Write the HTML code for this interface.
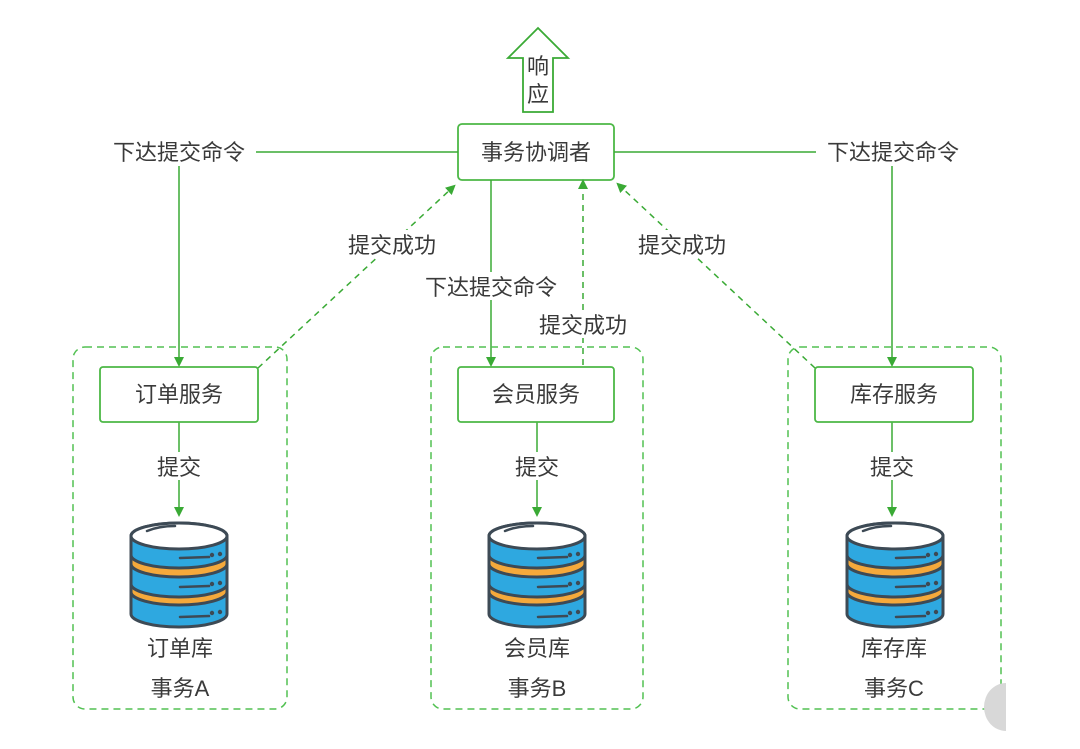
<!DOCTYPE html>
<html><head><meta charset="utf-8"><style>
html,body{margin:0;padding:0;background:#fff;}
svg{display:block;}
text{font-family:"Liberation Sans","Noto Sans CJK SC",sans-serif;fill:#3a3a3a;font-size:22px;}
</style></head><body>
<svg width="1080" height="749" viewBox="0 0 1080 749" xmlns="http://www.w3.org/2000/svg">
<defs>
<marker id="ah" markerWidth="10" markerHeight="10" refX="5" refY="5" orient="auto" markerUnits="userSpaceOnUse"><path d="M0,0 L10,5 L0,10 Z" fill="#3aaa35"/></marker>
<g id="db" stroke="#3d4a55" stroke-width="3">
  <path d="M-48,588 V614 A48,13 0 0 0 48,614 V588 A48,13 0 0 0 -48,588 Z" fill="#2ea8e0"/>
  <path d="M-48,575 V592 A48,13 0 0 0 48,592 V575 A48,13 0 0 0 -48,575 Z" fill="#f5a93b"/>
  <path d="M-48,560 V584 A48,13 0 0 0 48,584 V560 A48,13 0 0 0 -48,560 Z" fill="#2ea8e0"/>
  <path d="M-48,548 V564 A48,13 0 0 0 48,564 V548 A48,13 0 0 0 -48,548 Z" fill="#f5a93b"/>
  <path d="M-48,536 V555 A48,13 0 0 0 48,555 V536 A48,13 0 0 0 -48,536 Z" fill="#2ea8e0"/>
  <ellipse cx="0" cy="536" rx="48" ry="13" fill="#fff"/>
  <path d="M-32,531 q12,-5 28,-5" stroke-width="2.5" fill="none" stroke-linecap="round"/>
  <g stroke-width="2.5" stroke-linecap="round"><line x1="1" y1="558" x2="30" y2="557"/><line x1="1" y1="587" x2="30" y2="586"/><line x1="1" y1="617" x2="30" y2="616"/></g>
  <g stroke="none" fill="#3d4a55"><circle cx="33" cy="555" r="2.2"/><circle cx="41" cy="554" r="2.2"/><circle cx="33" cy="584" r="2.2"/><circle cx="41" cy="583" r="2.2"/><circle cx="33" cy="613" r="2.2"/><circle cx="41" cy="612" r="2.2"/></g>
</g>
</defs>

<!-- response arrow -->
<path d="M538,28 L568,58 L553,58 L553,112 L523,112 L523,58 L508,58 Z" fill="#fff" stroke="#3aaa35" stroke-width="1.8"/>
<text x="538" y="74" text-anchor="middle" font-size="22">响</text>
<text x="538" y="102" text-anchor="middle" font-size="22">应</text>

<!-- coordinator -->
<rect x="458" y="124" width="156" height="56" rx="4" fill="#fff" stroke="#4cb846" stroke-width="1.8"/>
<text x="536" y="160" text-anchor="middle" font-size="23">事务协调者</text>

<!-- command lines -->
<g stroke="#3aaa35" stroke-width="1.5" fill="none">
  <line x1="256" y1="152" x2="458" y2="152"/>
  <line x1="179" y1="166" x2="179" y2="362" marker-end="url(#ah)"/>
  <line x1="614" y1="152" x2="816" y2="152"/>
  <line x1="892" y1="166" x2="892" y2="362" marker-end="url(#ah)"/>
  <line x1="491" y1="180" x2="491" y2="272"/>
  <line x1="491" y1="300" x2="491" y2="362" marker-end="url(#ah)"/>
  <line x1="179" y1="422" x2="179" y2="452"/>
  <line x1="179" y1="480" x2="179" y2="512" marker-end="url(#ah)"/>
  <line x1="537" y1="422" x2="537" y2="452"/>
  <line x1="537" y1="480" x2="537" y2="512" marker-end="url(#ah)"/>
  <line x1="892" y1="422" x2="892" y2="452"/>
  <line x1="892" y1="480" x2="892" y2="512" marker-end="url(#ah)"/>
</g>
<text x="179" y="160" text-anchor="middle">下达提交命令</text>
<text x="893" y="160" text-anchor="middle">下达提交命令</text>
<text x="491" y="295" text-anchor="middle">下达提交命令</text>

<!-- success dashed -->
<g stroke="#3aaa35" stroke-width="1.5" fill="none" stroke-dasharray="6,5">
  <line x1="258" y1="368" x2="452" y2="188" marker-end="url(#ah)"/>
  <line x1="583" y1="365" x2="583" y2="184" marker-end="url(#ah)"/>
  <line x1="815" y1="368" x2="620" y2="186" marker-end="url(#ah)"/>
</g>
<rect x="343" y="230" width="98" height="28" fill="#fff"/>
<text x="392" y="253" text-anchor="middle">提交成功</text>
<rect x="534" y="310" width="98" height="28" fill="#fff"/>
<text x="583" y="333" text-anchor="middle">提交成功</text>
<rect x="633" y="230" width="98" height="28" fill="#fff"/>
<text x="682" y="253" text-anchor="middle">提交成功</text>

<!-- containers -->
<g stroke="#52c152" stroke-width="1.5" fill="none" stroke-dasharray="7,5">
  <rect x="73" y="347" width="214" height="362" rx="12"/>
  <rect x="431" y="347" width="212" height="362" rx="12"/>
  <rect x="788" y="347" width="213" height="362" rx="12"/>
</g>

<!-- services -->
<g fill="#fff" stroke="#4cb846" stroke-width="1.8">
  <rect x="100" y="367" width="158" height="55" rx="3"/>
  <rect x="458" y="367" width="156" height="55" rx="3"/>
  <rect x="815" y="367" width="158" height="55" rx="3"/>
</g>
<text x="179" y="402" text-anchor="middle" font-size="23">订单服务</text>
<text x="536" y="402" text-anchor="middle" font-size="23">会员服务</text>
<text x="894" y="402" text-anchor="middle" font-size="23">库存服务</text>

<text x="179" y="475" text-anchor="middle">提交</text>
<text x="537" y="475" text-anchor="middle">提交</text>
<text x="892" y="475" text-anchor="middle">提交</text>

<use href="#db" x="179"/>
<use href="#db" x="537"/>
<use href="#db" x="895"/>

<text x="180" y="656" text-anchor="middle">订单库</text>
<text x="180" y="696" text-anchor="middle">事务A</text>
<text x="537" y="656" text-anchor="middle">会员库</text>
<text x="537" y="696" text-anchor="middle">事务B</text>
<text x="894" y="656" text-anchor="middle">库存库</text>
<text x="894" y="696" text-anchor="middle">事务C</text>

<!-- gray corner blob -->
<path d="M1006,683 A22,24 0 0 0 1006,731 Z" fill="#d8d8d8"/>
</svg>
</body></html>
